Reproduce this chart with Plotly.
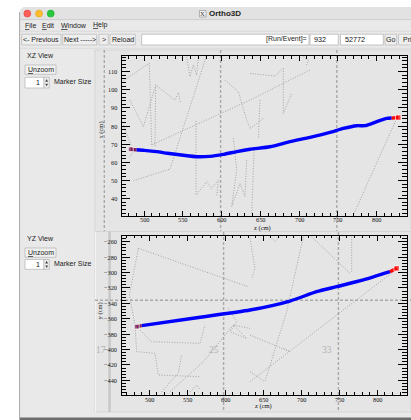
import plotly.graph_objects as go

W, H = 411, 420

# ---------------- data (cm) ----------------
# XZ view: reconstructed track (z, x)
xz_track_z = [490.0, 500.0, 516.2, 530.0, 550.6, 567.8, 585.0, 602.3, 619.5, 636.7, 662.5,
              688.3, 714.2, 740.0, 757.2, 774.4, 785.2, 800.3, 813.2, 819.6]
xz_track_x = [66.9, 66.6, 65.9, 65.0, 63.9, 63.1, 63.3, 64.4, 65.9, 67.2, 68.6,
              71.4, 73.8, 76.5, 78.7, 80.2, 80.2, 82.4, 84.2, 84.4]
xz_start_z = [482.6, 490.0]
xz_start_x = [67.2, 66.9]
xz_end_z = [819.6, 828.2]
xz_end_x = [84.4, 84.7]

# XZ view: other hits / tracks (dotted)
xz_hits_z = [
    [473.1, 506.7, 509.7],
    [481.7, 499.0, 514.9, 539.9, 544.2, 547.2],
    [514.9, 514.0],
    [509.7, 636.7, 714.2],
    [486.1, 533.4, 580.7],
    [554.9, 559.2, 563.5, 567.8, 570.0],
    [567.0, 567.0, 580.7, 587.2, 595.8, 593.7],
    [604.4, 621.6, 632.4, 636.7],
    [615.2, 619.5, 613.0, 623.8, 630.2, 632.4],
    [473.1, 486.1, 481.7],
    [636.7, 669.0, 679.7, 679.7, 690.5],
    [705.6, 712.0, 709.0],
    [649.6, 647.5],
    [636.7, 653.9],
    [826.1, 770.1],
    [641.9, 638.9],
]
xz_hits_x = [
    [105.0, 114.6, 69.6],
    [94.3, 79.6, 102.6, 94.3, 98.4, 92.5],
    [102.6, 68.6],
    [69.6, 94.3, 110.9],
    [49.9, 56.3, 119.1],
    [118.2, 107.2, 113.6, 108.1, 118.2],
    [82.9, 42.0, 49.3, 45.7, 50.3, 41.1],
    [105.4, 98.9, 83.3, 79.3],
    [73.2, 55.8, 35.6, 48.4, 41.1, 61.3],
    [80.6, 65.9, 63.1],
    [109.0, 107.6, 111.8, 87.0, 98.0],
    [118.2, 116.4, 112.7],
    [94.3, 73.2],
    [78.7, 84.2],
    [84.2, 31.0],
    [66.8, 31.9],
]

# YZ view: reconstructed track (z, y)
yz_track_z = [490.0, 560.0, 632.5, 685.1, 720.2, 746.5, 781.6, 816.7]
yz_track_y = [-369.0, -359.0, -348.7, -337.0, -324.9, -318.4, -309.7, -298.9]
yz_start_z = [483.4, 490.0]
yz_start_y = [-370.3, -369.0]
yz_end_z = [816.7, 825.5]
yz_end_y = [-298.9, -294.6]

yz_hits_z = [
    [485.6, 630.3],
    [485.6, 473.8, 481.2],
    [485.6, 503.1, 566.7, 573.3],
    [481.2, 483.4, 507.5, 511.9, 566.7],
    [516.3, 538.2, 542.6],
    [527.3, 571.1, 610.6],
    [604.0, 615.0, 606.2, 628.1, 610.6, 632.5],
    [553.6, 562.4, 566.7],
    [632.5, 639.1, 634.7],
    [658.8, 665.4, 672.0],
    [702.7, 680.7, 652.2],
    [713.6, 764.1],
    [766.3, 766.3],
    [821.1, 632.5],
    [632.5, 685.1, 676.4],
    [632.5, 652.2],
]
yz_hits_y = [
    [-268.6, -318.4],
    [-268.6, -329.2, -368.2],
    [-372.5, -389.8, -392.0, -368.2],
    [-368.2, -402.8, -405.0, -433.1, -435.3],
    [-454.8, -430.9, -407.1],
    [-454.8, -415.8, -368.2],
    [-346.5, -363.8, -376.8, -385.5, -368.2, -372.5],
    [-454.8, -446.1, -452.6],
    [-255.6, -294.6, -307.6],
    [-253.5, -259.9, -253.5],
    [-253.5, -350.9, -441.8],
    [-253.5, -301.1],
    [-253.5, -298.9],
    [-298.9, -441.8],
    [-381.2, -402.8, -398.5],
    [-428.8, -441.8],
]

z_ticks = [500, 550, 600, 650, 700, 750, 800]
xz_x_ticks = [40, 50, 60, 70, 80, 90, 100, 110]
yz_y_ticks = [-440, -420, -400, -380, -360, -340, -320, -300, -280, -260]
module_labels = ["17", "25", "33"]

# ---------------- helpers (pixel -> paper) ----------------
SANS = "Liberation Sans, Arial, sans-serif"
SERIF = "Liberation Serif, Times New Roman, serif"


def px(x):
    return x / W


def py(y):
    return 1 - y / H


def rect(x0, y0, x1, y1, fill, line=None, lw=1.0, dash=None):
    ln = dict(color=line if line else fill, width=lw if line else 0)
    if dash:
        ln["dash"] = dash
    return dict(type="rect", xref="paper", yref="paper", x0=px(x0), x1=px(x1),
                y0=py(y1), y1=py(y0), fillcolor=fill, line=ln, layer="below")


def seg(x0, y0, x1, y1, color, lw=1.0, dash=None):
    ln = dict(color=color, width=lw)
    if dash:
        ln["dash"] = dash
    return dict(type="line", xref="paper", yref="paper", x0=px(x0), x1=px(x1),
                y0=py(y0), y1=py(y1), line=ln, layer="below")


def circ(cx, cy, r, fill, line):
    return dict(type="circle", xref="paper", yref="paper", x0=px(cx - r), x1=px(cx + r),
                y0=py(cy + r), y1=py(cy - r), fillcolor=fill,
                line=dict(color=line, width=0.6), layer="below")


def path(d_pts, fill, line=None, lw=0.0):
    return dict(type="path", xref="paper", yref="paper", path=d_pts, fillcolor=fill,
                line=dict(color=line if line else fill, width=lw), layer="below")


def P(x, y):
    return f"{px(x):.5f},{py(y):.5f}"


def txt(s, x, y, size=7, color="#1a1a1a", family=SANS, xanchor="left", angle=0):
    return dict(text=s, x=px(x), y=py(y), xref="paper", yref="paper", showarrow=False,
                xanchor=xanchor, yanchor="middle", textangle=angle,
                font=dict(size=size, color=color, family=family))


shapes = []
ann = []

# window background with rounded top-left corner
shapes.append(path(f"M {P(20,420)} L {P(20,13)} Q {P(20,7)} {P(26,7)} L {P(411,7)} L {P(411,420)} Z",
                   "#e9e9e9"))
# title bar
shapes.append(path(f"M {P(20,19.5)} L {P(20,13)} Q {P(20,7)} {P(26,7)} L {P(411,7)} L {P(411,19.5)} Z",
                   "#e2e2e2"))
shapes.append(seg(20, 19.6, 411, 19.6, "#c6c6c6", 0.8))
shapes.append(seg(19.6, 12, 19.6, 420, "#a8a8a8", 1.0))
for cx, col, edge in [(27.3, "#fe5f57", "#e0443e"), (39.0, "#febc2e", "#dea123"),
                      (50.7, "#28c840", "#1aab29")]:
    shapes.append(circ(cx, 13.6, 3.5, col, edge))
# X11 icon
shapes.append(rect(199.5, 10.5, 206, 17, "#f4f4f4", "#8a8a8a", 0.6))
ann.append(txt("X", 202.8, 13.8, 6.5, "#333", SERIF, "center"))
ann.append(txt("<b>Ortho3D</b>", 225, 13.6, 8, "#222", SANS, "center"))

# menu bar
for s, x in [("<u>F</u>ile", 22.5), ("<u>E</u>dit", 40.3), ("<u>W</u>indow", 59.3), ("<u>H</u>elp", 91)]:
    ann.append(txt(s, x, 25.3, 7, "#1a1a1a"))
shapes.append(seg(20, 31.2, 411, 31.2, "#d0d0d0", 0.6))

# toolbar
btns = [("<- Previous", 21.7, 61), ("Next ----->", 62.7, 96.7), (">", 99, 108.3),
        ("Reload", 110, 135.3), ("Go", 385, 396.7), ("Pri", 398.5, 420)]
for label, x0, x1 in btns:
    shapes.append(rect(x0, 34.2, x1, 45, "#eeeeee", "#b9b9b9", 0.7))
    ann.append(txt(label, (x0 + min(x1, 411)) / 2 if label != "Pri" else x0 + 2.5, 39.6, 7,
                   "#1a1a1a", SANS, "center" if label != "Pri" else "left"))
for x0, x1 in [(141.7, 309), (310, 338.3), (340.5, 383.3)]:
    shapes.append(rect(x0, 34.2, x1, 45, "#ffffff", "#b0b0b0", 0.7))
ann.append(txt("[Run/Event]=", 308.5, 39.4, 7, "#1a1a1a", SANS, "right"))
ann.append(txt("932", 312, 39.4, 7.2, "#111"))
ann.append(txt("52772", 343, 39.4, 7.2, "#111"))
shapes.append(seg(20, 48.3, 411, 48.3, "#d4d4d4", 0.6))

# left control panels
for y_lab, y_btn, y_spin, name in [(56, (65, 74.3), (77.3, 88), "XZ View"),
                                  (238.8, (248, 257.3), (259.5, 269.3), "YZ View")]:
    ann.append(txt(name, 24.5, y_lab, 7, "#1a1a1a"))
    shapes.append(rect(25, y_btn[0], 56, y_btn[1], "#f1f1f1", "#b2b2b2", 0.7))
    ann.append(txt("<u>U</u>nzoom", 40.5, (y_btn[0] + y_btn[1]) / 2, 7, "#1a1a1a", SANS, "center"))
    shapes.append(rect(25, y_spin[0], 44, y_spin[1], "#ffffff", "#b2b2b2", 0.7))
    shapes.append(rect(44, y_spin[0], 49.3, y_spin[1], "#efefef", "#b2b2b2", 0.7))
    mid = (y_spin[0] + y_spin[1]) / 2
    shapes.append(path(f"M {P(45.2, mid-1)} L {P(48.1, mid-1)} L {P(46.65, mid-3.6)} Z", "#444"))
    shapes.append(path(f"M {P(45.2, mid+1)} L {P(48.1, mid+1)} L {P(46.65, mid+3.6)} Z", "#444"))
    ann.append(txt("1", 42.3, mid, 7, "#111", SANS, "right"))
    ann.append(txt("Marker Size", 52, mid - 0.8, 7, "#1a1a1a"))

# canvases
CANVAS = "#e5e5e5"
shapes.append(rect(95, 50, 411, 231.5, CANVAS, "#d2d2d2", 0.8))
shapes.append(rect(95, 231.5, 411, 412, CANVAS, "#d2d2d2", 0.8))
shapes.append(seg(95.5, 231.5, 95.5, 412, "#f4f4f4", 1.0))
shapes.append(rect(20, 417.5, 411, 420, "#6e6e6e"))

# module boundaries (dashed) - XZ canvas
DASH = "#a9a9a9"
for x in (104.3, 220.6, 336.8):
    shapes.append(seg(x, 50, x, 231, DASH, 1.4, "3px,2px"))
# YZ canvas
shapes.append(seg(109.6, 231.5, 109.6, 412, "#c9c9c9", 2.6))
for x in (223.6, 338.4):
    shapes.append(seg(x, 232, x, 412, DASH, 1.4, "3px,2px"))
shapes.append(seg(95, 300.3, 411, 300.3, DASH, 1.4, "3px,2px"))
for lab, x in zip(module_labels, (100.8, 213.7, 327.3)):
    ann.append(txt(lab, x, 350.2, 9.5, "#b3b3b3", SERIF, "center"))

# axis titles
ann.append(txt("x (cm)", 100.6, 130, 6.5, "#111", SERIF, "center", -90))
ann.append(txt("y (cm)", 100.4, 311, 6.5, "#111", SERIF, "center", -90))
ann.append(txt("z (cm)", 262.5, 227.6, 6.5, "#111", SERIF, "center"))
ann.append(txt("z (cm)", 263.5, 406.3, 6.5, "#111", SERIF, "center"))

# tick labels placed through the axes' own scales
TICKF = dict(family=SERIF, size=6.3, color="#111")


def fmt(v):
    return ("\u2212" + str(abs(v))) if v < 0 else str(v)


for xr, ypix in (("x", 219.6), ("x2", 399.0)):
    for v in z_ticks:
        ann.append(dict(text=fmt(v), x=v, xref=xr, y=py(ypix), yref="paper", showarrow=False,
                        xanchor="center", yanchor="middle", font=TICKF))
for yr, vals in (("y", xz_x_ticks), ("y2", yz_y_ticks)):
    for v in vals:
        ann.append(dict(text=fmt(v), x=px(118.8), xref="paper", y=v, yref=yr, showarrow=False,
                        xanchor="right", yanchor="middle", font=TICKF))

# ---------------- traces ----------------
fig = go.Figure()
GRAY = "#9c9c9c"
for zs, xs in zip(xz_hits_z, xz_hits_x):
    fig.add_trace(go.Scatter(x=zs, y=xs, mode="lines", xaxis="x", yaxis="y",
                             line=dict(color=GRAY, width=0.9, dash="1px,1.6px"), hoverinfo="skip"))
for zs, ys in zip(yz_hits_z, yz_hits_y):
    fig.add_trace(go.Scatter(x=zs, y=ys, mode="lines", xaxis="x2", yaxis="y2",
                             line=dict(color=GRAY, width=0.9, dash="1px,1.6px"), hoverinfo="skip"))

for ax, ay, tz, tv, sz, sv, ez, ev in [
    ("x", "y", xz_track_z, xz_track_x, xz_start_z, xz_start_x, xz_end_z, xz_end_x),
    ("x2", "y2", yz_track_z, yz_track_y, yz_start_z, yz_start_y, yz_end_z, yz_end_y),
]:
    fig.add_trace(go.Scatter(x=tz, y=tv, mode="lines", xaxis=ax, yaxis=ay,
                             line=dict(color="#0000ff", width=3.4, shape="spline", smoothing=0.6),
                             hoverinfo="skip"))
    fig.add_trace(go.Scatter(x=sz, y=sv, mode="lines+markers", xaxis=ax, yaxis=ay,
                             line=dict(color="#7d1f58", width=3.4),
                             marker=dict(color="#7d1f58", size=[5, 0], symbol="square"),
                             hoverinfo="skip"))
    fig.add_trace(go.Scatter(x=ez, y=ev, mode="lines+markers", xaxis=ax, yaxis=ay,
                             line=dict(color="#ff0000", width=3.4),
                             marker=dict(color="#ff0000", size=[0, 5.5], symbol="square"),
                             hoverinfo="skip"))

# ---------------- axes ----------------


def axis_common(ticklen, minor_dtick, minor_len):
    return dict(showgrid=False, zeroline=False, showline=True, linecolor="#000", linewidth=1,
                mirror="allticks", ticks="inside", ticklen=ticklen, tickwidth=0.8,
                tickcolor="#000", showticklabels=False,
                minor=dict(ticks="inside", dtick=minor_dtick, ticklen=minor_len,
                           tickwidth=0.7, tickcolor="#000", showgrid=False))


xdom = [px(121.7), px(406.7)]
fig.update_layout(
    width=W, height=H, margin=dict(l=0, r=0, t=0, b=0),
    paper_bgcolor="#ffffff", plot_bgcolor="rgba(0,0,0,0)",
    showlegend=False, hovermode=False,
    shapes=shapes, annotations=ann,
    xaxis=dict(domain=xdom, range=[471, 839], anchor="y", tickvals=z_ticks,
               **axis_common(4.8, 10, 2.5)),
    yaxis=dict(domain=[py(215.7), py(56)], range=[30.6, 118.6], anchor="x",
               tickvals=xz_x_ticks, **axis_common(8.5, 2, 4.3)),
    xaxis2=dict(domain=xdom, range=[463.7, 838.7], anchor="y2", tickvals=z_ticks,
                **axis_common(4.8, 10, 2.5)),
    yaxis2=dict(domain=[py(394.5), py(235.7)], range=[-458.4, -252.2], anchor="x2",
                tickvals=yz_y_ticks, **axis_common(8.5, 4, 4.3)),
)

fig.write_html("out.html")
